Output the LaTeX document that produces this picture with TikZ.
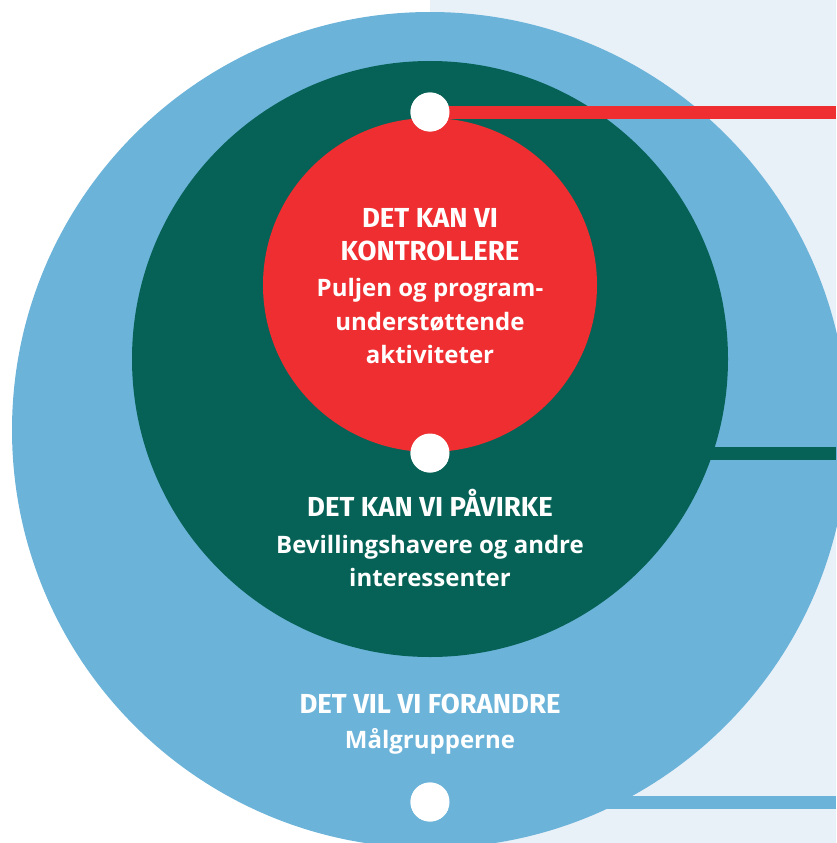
\documentclass[tikz,border=0pt]{standalone}
\usepackage{fontspec}
\setmainfont{Open Sans}
\newfontfamily\headfont{Fira Sans}

\definecolor{ringblue}{RGB}{107,179,217}
\definecolor{ringgreen}{RGB}{6,98,86}
\definecolor{ringred}{RGB}{238,46,49}
\definecolor{panel}{RGB}{232,240,248}

\tikzset{
	dot/.style={circle,fill=white,inner sep=0pt,minimum size=39pt},
	band/.style={line width=13pt},
	headline/.style={anchor=base,text=white,font=\headfont\bfseries\fontsize{27.5}{32}\selectfont},
	bodyline/.style={anchor=base,text=white,font=\bfseries\fontsize{24}{28}\selectfont}
}

\begin{document}
\begin{tikzpicture}[x=1pt,y=-1pt]
	\useasboundingbox (0,0) rectangle (836,843);

	% background panel
	\fill [panel] (430,0) rectangle (836,843);

	% outer ring
	\fill [ringblue] (430,430) circle (418);
	\node [dot] (bluedot) at (430,802) {};
	\coordinate (blueend) at (836,802);
	\draw [band,ringblue] (bluedot.center) -- (blueend);

	% middle ring
	\fill [ringgreen] (430,359) circle (298);
	\node [dot] (greendot) at (430,453) {};
	\coordinate (greenend) at (836,453);
	\draw [band,ringgreen] (greendot.center) -- (greenend);

	% inner circle
	\fill [ringred] (430,285) circle (167);
	\node [dot] (reddot) at (430,112) {};
	\coordinate (redend) at (836,112);
	\draw [band,ringred] (reddot.center) -- (redend);

	% dots on top
	\node [dot] at (bluedot) {};
	\node [dot] at (greendot) {};
	\node [dot] at (reddot) {};

	% texts, inner circle
	\node [headline] (ctrlA) at (430,227) {DET KAN VI};
	\node [headline] (ctrlB) at (430,260) {KONTROLLERE};
	\node [bodyline] (ctrlC) at (430,296) {Puljen og program-};
	\node [bodyline] (ctrlD) at (430,330) {understøttende};
	\node [bodyline] (ctrlE) at (430,363) {aktiviteter};

	% texts, middle ring
	\node [headline] (inflA) at (430,516) {DET KAN VI PÅVIRKE};
	\node [bodyline] (inflB) at (430,553) {Bevillingshavere og andre};
	\node [bodyline] (inflC) at (430,586) {interessenter};

	% texts, outer ring
	\node [headline] (chgA) at (430,713) {DET VIL VI FORANDRE};
	\node [bodyline] (chgB) at (430,748) {Målgrupperne};
\end{tikzpicture}
\end{document}
